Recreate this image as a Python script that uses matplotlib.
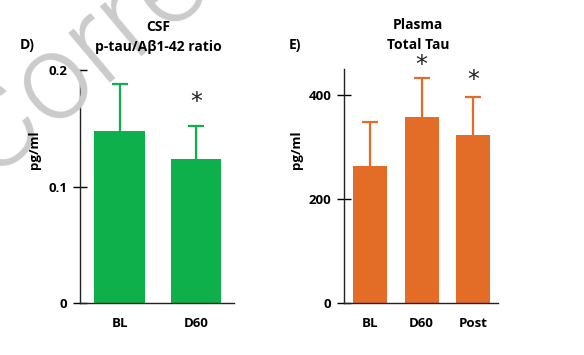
import matplotlib
matplotlib.use("Agg")
import matplotlib.pyplot as plt
import numpy as np

# CSF p-tau / Abeta1-42 ratio
csf_labels = ["BL", "D60"]
csf_values = [0.148, 0.124]
csf_err = [0.040, 0.028]
csf_star = [False, True]

# Plasma total tau
plasma_labels = ["BL", "D60", "Post"]
plasma_values = [263, 358, 323]
plasma_err = [85, 74, 73]
plasma_star = [False, True, True]

green = "#0DB04B"
orange = "#E36C26"

plt.rcParams["font.family"] = ["Open Sans", "DejaVu Sans"]
plt.rcParams["font.weight"] = "bold"

W, H = 584, 355
fig = plt.figure(figsize=(W / 100, H / 100), dpi=100)


def px_axes(x0, y0, x1, y1):
    # pixel box (top-left origin) -> figure fraction
    return fig.add_axes([x0 / W, 1 - y1 / H, (x1 - x0) / W, (y1 - y0) / H])


# watermark behind everything
fig.text(-12 / W, 1 - 178 / H, "Corrected", fontsize=88, color="#cbcbcb",
         rotation=40, rotation_mode="anchor", fontfamily="Roboto",
         fontweight=300, zorder=0)


def panel(ax, labels, values, err, stars, star_gap, color, ylim, yticks, yticklabels, xlim):
    x = np.arange(len(labels))
    # symmetric bars drawn under the columns so only the upper half shows
    ax.errorbar(x, values, yerr=err, fmt="none", ecolor=color, elinewidth=1.6,
                capsize=5.5, capthick=1.6, zorder=1)
    ax.bar(x, values, width=0.66, color=color, zorder=2)
    for xi, v, e, s, g in zip(x, values, err, stars, star_gap):
        if s:
            ax.annotate("*", (xi, v + e), xytext=(0, g), textcoords="offset pixels",
                        ha="center", va="center", fontsize=17, fontweight="normal",
                        fontfamily="DejaVu Sans", color="#222222")
    ax.set_xlim(*xlim)
    ax.set_ylim(*ylim)
    ax.set_xticks(x)
    ax.set_xticklabels(labels)
    ax.set_yticks(yticks)
    ax.set_yticklabels(yticklabels)
    ax.tick_params(axis="x", length=0, pad=10, labelsize=9.5)
    ax.tick_params(axis="y", direction="inout", length=10, width=1, pad=4, labelsize=9.5)
    for sp in ["top", "right"]:
        ax.spines[sp].set_visible(False)
    for sp in ["left", "bottom"]:
        ax.spines[sp].set_linewidth(1)
        ax.spines[sp].set_color("#222222")
    ax.patch.set_alpha(0)


ax1 = px_axes(80, 70, 234, 303)
panel(ax1, csf_labels, csf_values, csf_err, csf_star, [0, 24], green,
      (0, 0.2), [0, 0.1, 0.2], ["0", "0.1", "0.2"], (-0.52, 1.5))

ax2 = px_axes(344, 69, 498, 303)
panel(ax2, plasma_labels, plasma_values, plasma_err, plasma_star, [0, 13, 17], orange,
      (0, 450), [0, 200, 400], ["0", "200", "400"], (-0.505, 2.485))

# titles and panel letters
fig.text(158 / W, 1 - 27 / H, "CSF", ha="center", va="center", fontsize=10)
fig.text(158 / W, 1 - 47 / H, "p-tau/A\u03b21-42 ratio", ha="center", va="center", fontsize=10)
fig.text(20 / W, 1 - 45 / H, "D)", ha="left", va="center", fontsize=10)

fig.text(418 / W, 1 - 25 / H, "Plasma", ha="center", va="center", fontsize=10)
fig.text(418 / W, 1 - 45 / H, "Total Tau", ha="center", va="center", fontsize=10)
fig.text(289 / W, 1 - 45 / H, "E)", ha="left", va="center", fontsize=10)

# y labels
fig.text(34 / W, 1 - 150 / H, "pg/ml", rotation=90, ha="center", va="center", fontsize=9.5)
fig.text(296 / W, 1 - 150 / H, "pg/ml", rotation=90, ha="center", va="center", fontsize=9.5)

fig.savefig("out.png", dpi=100)
